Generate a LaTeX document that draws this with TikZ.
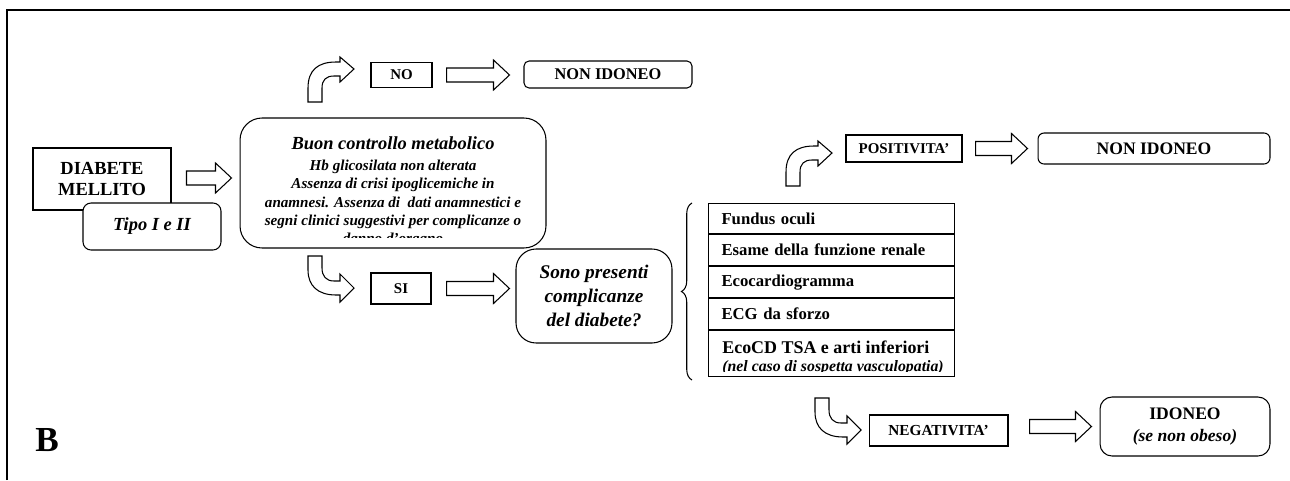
\documentclass[tikz,border=0pt]{standalone}
\usepackage{fontspec}
\setmainfont{Liberation Serif}
\usetikzlibrary{positioning,calc,decorations.pathreplacing}

\newcommand{\hblock}[2]{%
  \draw[barrow] ($(#1)+(0,-7)$) -- ($(#1 -| #2)+(-16,-7)$) -- ($(#1 -| #2)+(-16,-15)$)
    -- (#1 -| #2) -- ($(#1 -| #2)+(-16,15)$) -- ($(#1 -| #2)+(-16,7)$) -- ($(#1)+(0,7)$) -- cycle;}

\tikzset{
  barrow/.style={draw, line width=0.6pt, fill=white},
  sqbox/.style={draw, line width=0.6pt, fill=white, font=\bfseries, inner sep=0pt, align=center},
  rbox/.style={sqbox, rounded corners=#1},
  rbox/.default=0.1cm,
  cell/.style={draw, line width=0.6pt, text width=4.4cm, inner xsep=0.26cm, inner ysep=0pt,
    font=\fontsize{9.5}{11}\selectfont\bfseries, align=left},
  bendup/.pic={
    \draw[barrow] (0,0) -- (0,-14) .. controls (0,-32) and (10,-40) .. (28,-40) -- (32,-40)
      -- (32,-45) -- (46,-33) -- (32,-20) -- (32,-26) -- (26,-26)
      .. controls (18,-26) and (14,-22) .. (14,-14) -- (14,0) -- cycle;
  },
  benddown/.pic={
    \draw[barrow] (0,0) -- (14,0) -- (14,12) .. controls (14,20) and (18,25) .. (26,25) -- (32,25)
      -- (32,18) -- (46,32) -- (32,46) -- (32,39) -- (28,39)
      .. controls (10,39) and (0,30) .. (0,14) -- cycle;
  },
}

\begin{document}
\begin{tikzpicture}[x=0.02cm,y=-0.02cm]

\useasboundingbox (0,0) rectangle (1290,480);
\draw[line width=0.7pt] (7,480) -- (7,10) -- (1290,10);

\node[sqbox, minimum width=2.76cm, minimum height=1.24cm, font=\fontsize{10.5}{12}\selectfont\bfseries] (dm) at (102,179) {DIABETE\\MELLITO};
\node[rbox=0.16cm, minimum width=2.76cm, minimum height=0.94cm, font=\fontsize{10.5}{12}\selectfont\bfseries\itshape] (tipo) at (152,226.5) {Tipo I e II};

\node[rbox=0.44cm, minimum width=6.12cm, minimum height=2.6cm] (big) at (393,183) {};
\node[font=\fontsize{10.5}{12}\selectfont\bfseries\itshape] (bigtitle) at (393,143) {Buon controllo metabolico};
\begin{scope}
\clip ($(big.north west)+(4,4)$) rectangle ($(big.south east)+(-4,-11)$);
\node[font=\fontsize{8.6}{10.35}\selectfont\bfseries\itshape, align=center, anchor=north] (bigbody) at (393,154) {Hb glicosilata non alterata\\Assenza di crisi ipoglicemiche in\\anamnesi. Assenza di\ \ dati anamnestici e\\segni clinici suggestivi per complicanze o\\danno d’organo};
\end{scope}

\coordinate (s1) at ($(dm.east)+(15,-1)$);
\coordinate (e1) at ($(big.west)+(-8,0)$);
\hblock{s1}{e1}

\pic at (308,102) {bendup};
\pic at (308,256) {benddown};

\node[sqbox, minimum width=1.22cm, minimum height=0.5cm, font=\fontsize{8.5}{10}\selectfont\bfseries] (no) at (401.5,75) {NO};
\node[rbox, minimum width=3.36cm, minimum height=0.54cm, font=\fontsize{9.3}{11}\selectfont\bfseries] (non1) at (608,74.5) {NON IDONEO};
\coordinate (s2) at ($(no.east)+(14,0)$);
\coordinate (e2) at ($(non1.west)+(-14,0)$);
\hblock{s2}{e2}

\node[sqbox, minimum width=1.2cm, minimum height=0.62cm, font=\fontsize{8.5}{10}\selectfont\bfseries] (si) at (401,288.5) {SI};
\node[rbox=0.4cm, minimum width=3.12cm, minimum height=1.88cm, font=\fontsize{11}{13.6}\selectfont\bfseries\itshape] (sono) at (594,296) {Sono presenti\\complicanze\\del diabete?};
\coordinate (s3) at ($(si.east)+(15,0)$);
\coordinate (e3) at ($(sono.west)+(-6,0)$);
\hblock{s3}{e3}

\draw[decorate, decoration={brace, amplitude=6pt}, line width=0.6pt] (692,380) -- (692,203);

\node[cell, minimum height=0.6cm, anchor=north west] (r1) at (708,203) {Fundus oculi};
\node[cell, minimum height=0.62cm, below=0pt of r1] (r2) {Esame della funzione renale};
\node[cell, minimum height=0.62cm, below=0pt of r2] (r3) {Ecocardiogramma};
\node[cell, minimum height=0.62cm, below=0pt of r3] (r4) {ECG da sforzo};
\node[cell, minimum height=0.92cm, below=0pt of r4] (r5) {};
\node[font=\fontsize{10.2}{12}\selectfont\bfseries, anchor=west, inner sep=0pt] (eco) at ($(r5.north west)+(14,17)$) {EcoCD TSA e arti inferiori};
\begin{scope}
\clip ($(r5.north west)+(1,25)$) rectangle ($(r5.south east)+(-1,-6)$);
\node[font=\fontsize{9}{11}\selectfont\bfseries\itshape, anchor=west, inner sep=0pt] (note) at ($(r5.south west)+(14,-10)$) {(nel caso di sospetta vasculopatia)};
\end{scope}

\pic at (786,186) {bendup};
\node[sqbox, minimum width=2.32cm, minimum height=0.54cm, font=\fontsize{8.5}{10}\selectfont\bfseries] (pos) at (904,148.5) {POSITIVITA’};
\node[rbox=0.12cm, minimum width=4.64cm, minimum height=0.62cm, font=\fontsize{10}{12}\selectfont\bfseries] (non2) at (1154,148.5) {NON IDONEO};
\coordinate (s4) at ($(pos.east)+(13,0)$);
\coordinate (e4) at ($(non2.west)+(-10,0)$);
\hblock{s4}{e4}

\pic at (815,398) {benddown};
\node[sqbox, minimum width=2.78cm, minimum height=0.62cm, font=\fontsize{8.7}{10}\selectfont\bfseries] (neg) at (938.5,430.5) {NEGATIVITA’};
\node[rbox=0.24cm, minimum width=3.4cm, minimum height=1.18cm, font=\fontsize{10}{12.5}\selectfont\bfseries] (ido) at (1185,426.5) {IDONEO\\{\itshape (se non obeso)}};
\coordinate (s5) at ($(neg.east)+(21,-4)$);
\coordinate (e5) at ($(ido.west)+(-8,0)$);
\hblock{s5}{e5}

\node[font=\fontsize{20}{20}\selectfont\bfseries] (lab) at (47,440) {B};

\end{tikzpicture}
\end{document}
